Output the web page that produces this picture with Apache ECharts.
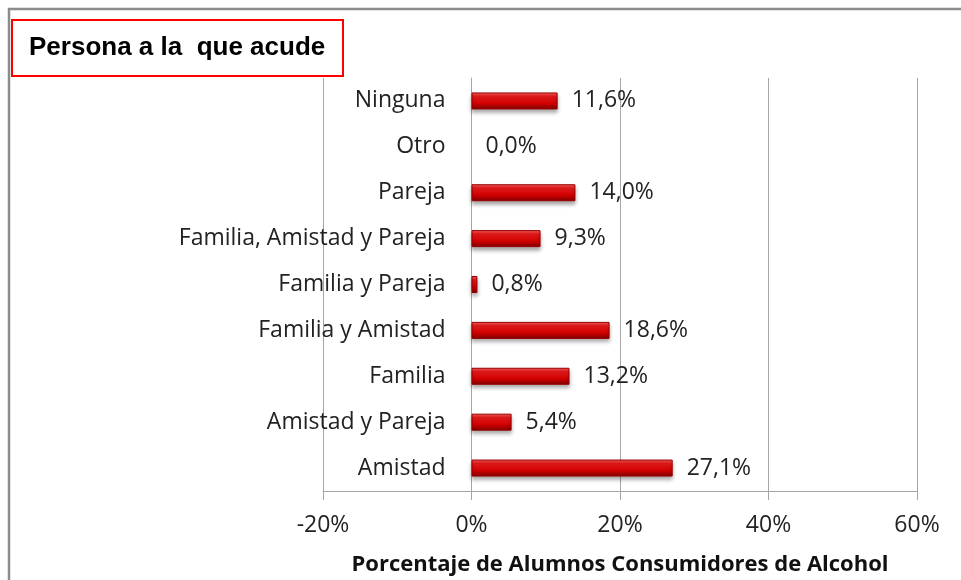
<!DOCTYPE html>
<html>
<head>
<meta charset="UTF-8">
<script src="https://cdn.jsdelivr.net/npm/echarts@6/dist/echarts.min.js"></script>
<style>
  html, body { margin: 0; padding: 0; background: #fff; }
  #main { width: 961px; height: 580px; }
</style>
</head>
<body>
<div id="main"></div>
<script>
  // bottom to top, as the axis draws them
  const categories = [
    'Amistad', 'Amistad y Pareja', 'Familia', 'Familia y Amistad',
    'Familia y Pareja', 'Familia, Amistad y Pareja', 'Pareja', 'Otro', 'Ninguna'
  ];
  const values = [27.1, 5.4, 13.2, 18.6, 0.8, 9.3, 14.0, 0.0, 11.6];
  const xTicks = { min: -20, max: 60, step: 20 };

  const labelFont = 'Open Sans, sans-serif';
  const gridColor = '#a6a6a6';
  const gridLeft = 323, gridRight = 44;
  const plotWidth = 961 - gridLeft - gridRight;
  // the category axis sits on the 0% line, as in the original
  const zeroOffset = -plotWidth * (0 - xTicks.min) / (xTicks.max - xTicks.min);

  const chart = echarts.init(document.getElementById('main'));

  const barFill = new echarts.graphic.LinearGradient(0, 0, 0, 1, [
    { offset: 0, color: '#f66262' },
    { offset: 0.22, color: '#e81c1c' },
    { offset: 0.65, color: '#d00000' },
    { offset: 1, color: '#7d0000' }
  ]);

  const barData = values.map(v => v === 0
    ? { value: v, itemStyle: { borderWidth: 0, shadowBlur: 0, shadowOffsetY: 0 } }
    : v);

  chart.setOption({
    animation: false,
    title: {
      text: 'Persona a la  que acude',
      left: 12,
      top: 20,
      padding: [13, 18, 13, 17],
      borderColor: '#ff0000',
      borderWidth: 2,
      textStyle: {
        fontFamily: 'Liberation Sans, Arial, sans-serif',
        fontWeight: 'bold',
        fontSize: 26,
        lineHeight: 30,
        color: '#000'
      }
    },
    graphic: [{
      type: 'rect',
      z: -1,
      shape: { x: 9, y: 9, width: 1000, height: 620 },
      style: { fill: 'none', stroke: '#8c8c8c', lineWidth: 2.5 }
    }],
    grid: { left: gridLeft, right: gridRight, top: 78, bottom: 89, outerBoundsMode: 'none' },
    xAxis: {
      type: 'value',
      min: xTicks.min,
      max: xTicks.max,
      interval: xTicks.step,
      name: 'Porcentaje de Alumnos Consumidores de Alcohol',
      nameLocation: 'middle',
      nameGap: 63,
      nameTextStyle: {
        fontFamily: labelFont,
        fontWeight: 'bold',
        fontSize: 22,
        color: '#111'
      },
      axisLine: { show: true, lineStyle: { color: gridColor, width: 1 } },
      axisTick: { show: true, length: 9, lineStyle: { color: gridColor } },
      axisLabel: {
        formatter: '{value}%',
        margin: 23,
        fontFamily: labelFont,
        fontSize: 23,
        color: '#222'
      },
      splitLine: { show: true, lineStyle: { color: gridColor, width: 1 } }
    },
    yAxis: {
      type: 'category',
      data: categories,
      offset: zeroOffset,
      axisLine: { show: true, onZero: false, lineStyle: { color: gridColor, width: 1 } },
      axisTick: { show: false },
      axisLabel: {
        margin: 26,
        fontFamily: labelFont,
        fontSize: 23,
        color: '#222'
      },
      splitLine: { show: false }
    },
    series: [{
      type: 'bar',
      data: barData,
      barWidth: 17,
      itemStyle: {
        color: barFill,
        borderColor: '#990000',
        borderWidth: 1,
        shadowColor: 'rgba(0,0,0,0.35)',
        shadowBlur: 4,
        shadowOffsetY: 3
      },
      label: {
        show: true,
        position: 'right',
        distance: 14,
        fontFamily: labelFont,
        fontSize: 23,
        color: '#222',
        formatter: p => p.value.toFixed(1).replace('.', ',') + '%'
      }
    }]
  });
</script>
</body>
</html>
